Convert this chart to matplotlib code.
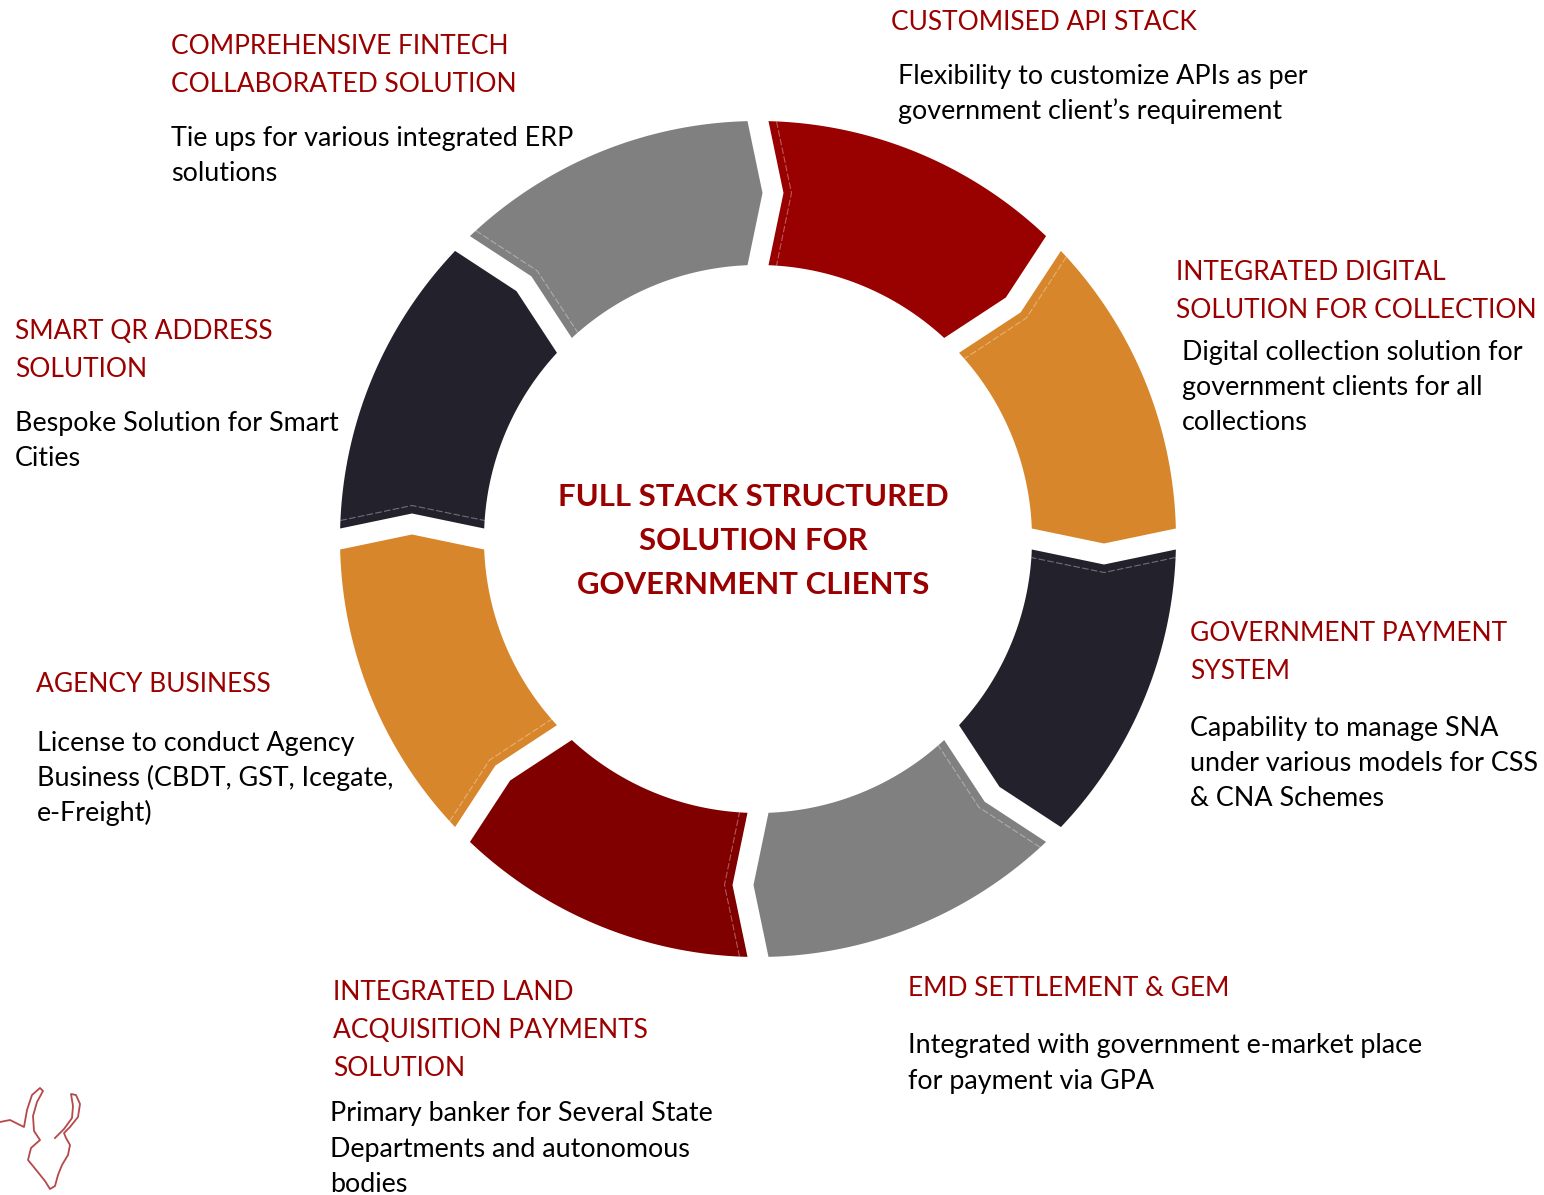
import numpy as np
import matplotlib.pyplot as plt
from matplotlib.patches import Polygon

# ring segments, clockwise from 12 o'clock
seg_colors = ['#990000', '#D8862B', '#23212C', '#808080',
              '#800000', '#D8862B', '#23212C', '#808080']
seg_start = [90, 45, 0, -45, -90, -135, -180, -225]   # degrees, trailing edge

center_title = ['FULL STACK STRUCTURED', 'SOLUTION FOR', 'GOVERNMENT CLIENTS']

titles = [
    ['CUSTOMISED API STACK'],
    ['INTEGRATED DIGITAL', 'SOLUTION FOR COLLECTION'],
    ['GOVERNMENT PAYMENT', 'SYSTEM'],
    ['EMD SETTLEMENT & GEM'],
    ['INTEGRATED LAND', 'ACQUISITION PAYMENTS', 'SOLUTION'],
    ['AGENCY BUSINESS'],
    ['SMART QR ADDRESS', 'SOLUTION'],
    ['COMPREHENSIVE FINTECH', 'COLLABORATED SOLUTION'],
]
bodies = [
    ['Flexibility to customize APIs as per', 'government client\u2019s requirement'],
    ['Digital collection solution for', 'government clients for all', 'collections'],
    ['Capability to manage SNA', 'under various models for CSS', '& CNA Schemes'],
    ['Integrated with government e-market place', 'for payment via GPA'],
    ['Primary banker for Several State', 'Departments and autonomous', 'bodies'],
    ['License to conduct Agency', 'Business (CBDT, GST, Icegate,', 'e-Freight)'],
    ['Bespoke Solution for Smart', 'Cities'],
    ['Tie ups for various integrated ERP', 'solutions'],
]
# (title x, first title line y, body x, first body line y) in pixels
text_pos = [
    (891, 22, 898, 76),
    (1176, 272, 1182, 352),
    (1190, 633, 1190, 728),
    (908, 988, 908, 1046),
    (333, 992, 330, 1114),
    (36, 684, 37, 743),
    (15, 331, 15, 423),
    (171, 46, 171, 138),
]

# rough outline of the small bull logo in the bottom-left corner
logo_x = [0, 10, 24, 27, 32, 40, 43, 37, 33, 34, 40, 31, 28, 37, 45, 50, 55,
          58, 62, 68, 70, 66, 64, 70, 78, 80, 76, 71, 73, 72, 64, 55]
logo_y = [1122, 1120, 1127, 1110, 1095, 1088, 1091, 1102, 1116, 1131, 1140,
          1148, 1160, 1171, 1181, 1189, 1186, 1175, 1165, 1155, 1145, 1138,
          1133, 1127, 1117, 1104, 1095, 1094, 1106, 1118, 1129, 1138]

W, H = 1544, 1195
cx, cy = 758, 539
R_out, R_in = 418, 274
R_mid = (R_out + R_in) / 2
gap = 10.5     # half width of the white gap
depth = 15     # how far the chevron point sticks out
inset = 8

TITLE_RED = '#9B0000'
FONT = 'Lato'


def pt(rho, deg):
    a = np.radians(deg)
    return cx + rho * np.cos(a), cy - rho * np.sin(a)


def offset(rho, deg, off):
    # point at radius rho on the boundary line, shifted clockwise by `off`
    a = np.radians(deg)
    x = rho * np.cos(a) + off * np.sin(a)
    y = rho * np.sin(a) - off * np.cos(a)
    return cx + x, cy - y


def edge(deg, off):
    # outer and inner points of a boundary line shifted by off
    o = pt(R_out, deg - np.degrees(np.arcsin(off / R_out)))
    i = pt(R_in, deg - np.degrees(np.arcsin(off / R_in)))
    return o, i


fig = plt.figure(figsize=(W / 100, H / 100), dpi=100)
ax = fig.add_axes([0, 0, 1, 1])
ax.set_xlim(0, W)
ax.set_ylim(H, 0)
ax.axis('off')

for col, a1 in zip(seg_colors, seg_start):
    a2 = a1 - 45
    # trailing edge (notch) and leading edge (point)
    notch = offset(R_mid, a1, gap + depth)
    tip = offset(R_mid, a2, depth - gap)

    ang_o1 = a1 - np.degrees(np.arcsin(gap / R_out))
    ang_o2 = a2 + np.degrees(np.arcsin(gap / R_out))
    ang_i1 = a1 - np.degrees(np.arcsin(gap / R_in))
    ang_i2 = a2 + np.degrees(np.arcsin(gap / R_in))
    outer = [pt(R_out, a) for a in np.linspace(ang_o1, ang_o2, 60)]
    inner = [pt(R_in, a) for a in np.linspace(ang_i2, ang_i1, 60)]
    poly = outer + [tip] + inner + [notch]
    ax.add_patch(Polygon(poly, closed=True, facecolor=col, edgecolor='none'))

    # faint line just inside the notch
    so, si = edge(a1, gap + inset)
    sm = offset(R_mid, a1, gap + depth + inset)
    ax.plot([so[0], sm[0], si[0]], [so[1], sm[1], si[1]], color='white',
            alpha=0.35, lw=0.8, ls=(0, (6, 2)))

# centre text
for k, line in enumerate(center_title):
    ax.text(753, 497 + k * 44, line, ha='center', va='center', fontsize=22.4,
            fontweight='bold', color=TITLE_RED, family=FONT)

for tl, bl, (tx, ty, bx, by) in zip(titles, bodies, text_pos):
    for k, line in enumerate(tl):
        ax.text(tx, ty + k * 38.5, line, ha='left', va='center', fontsize=19,
                color=TITLE_RED, family=FONT)
    for k, line in enumerate(bl):
        ax.text(bx, by + k * 35, line, ha='left', va='center', fontsize=19.4,
                color='black', family=FONT)

ax.plot(logo_x, logo_y, color='#B5484A', lw=1.3, solid_joinstyle='round')

fig.savefig('out.png', dpi=100)
